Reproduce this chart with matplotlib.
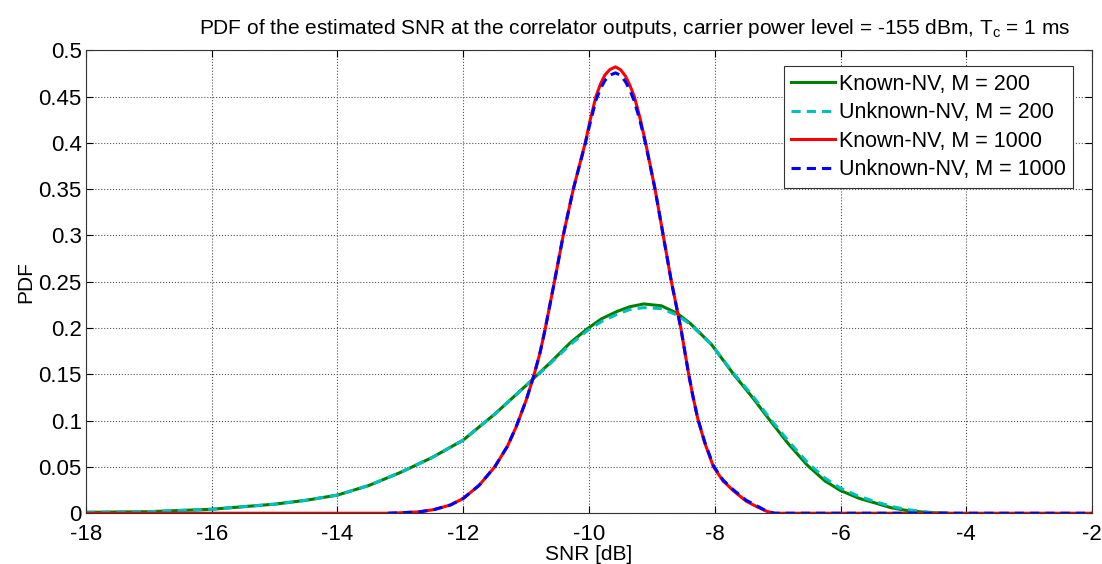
import matplotlib
matplotlib.use('Agg')
import matplotlib.pyplot as plt

plt.rcParams['font.family'] = ['Liberation Sans', 'DejaVu Sans']
plt.rcParams['mathtext.fontset'] = 'custom'
plt.rcParams['mathtext.rm'] = 'Liberation Sans'
plt.rcParams['axes.unicode_minus'] = False

# wide curves (M = 200)
wide_x = [-18, -17, -16, -15, -14.5, -14, -13.5, -13, -12.5, -12, -11.5, -11,
          -10.61, -10.3, -10.03, -9.8, -9.55, -9.35, -9.13, -8.85, -8.60, -8.39,
          -8.05, -7.70, -7.40, -7.12, -6.83, -6.53, -6.25, -6.0, -5.7, -5.42,
          -5.2, -4.95, -4.58, -4.3]
known_200 = [0.001, 0.0017, 0.0043, 0.0098, 0.014, 0.0196, 0.030, 0.044, 0.060,
             0.079, 0.107, 0.138, 0.163, 0.184, 0.199, 0.210, 0.218, 0.223, 0.226,
             0.224, 0.216, 0.205, 0.182, 0.150, 0.125, 0.100, 0.075, 0.052, 0.035,
             0.0245, 0.016, 0.0105, 0.006, 0.003, 0.0006, 0.0]
unknown_200 = [0.001, 0.0017, 0.0043, 0.0098, 0.014, 0.0196, 0.030, 0.044, 0.060,
               0.079, 0.107, 0.138, 0.162, 0.182, 0.197, 0.207, 0.215, 0.220, 0.222,
               0.221, 0.214, 0.204, 0.182, 0.151, 0.127, 0.102, 0.078, 0.055, 0.038,
               0.027, 0.018, 0.012, 0.0075, 0.004, 0.001, 0.0]

# narrow curves (M = 1000)
narrow_x = [-18, -13.2, -13.0, -12.7, -12.46, -12.2, -12.0, -11.75, -11.50, -11.3,
            -11.16, -11.0, -10.88, -10.78, -10.70, -10.55, -10.41, -10.25, -10.06,
            -9.98, -9.89, -9.82, -9.75, -9.67, -9.58, -9.50, -9.42, -9.35, -9.28,
            -9.19, -9.10, -8.95, -8.82, -8.69, -8.54, -8.42, -8.35, -8.27, -8.16,
            -8.02, -7.87, -7.70, -7.50, -7.33, -7.17, -7.05, -2]
known_1000 = [0, 0, 0.0005, 0.0015, 0.004, 0.009, 0.016, 0.030, 0.050, 0.072,
              0.093, 0.122, 0.148, 0.173, 0.198, 0.250, 0.300, 0.350, 0.400,
              0.425, 0.450, 0.463, 0.473, 0.479, 0.482, 0.479, 0.472, 0.462, 0.450,
              0.427, 0.400, 0.350, 0.300, 0.250, 0.200, 0.152, 0.127, 0.102, 0.076,
              0.050, 0.035, 0.024, 0.013, 0.007, 0.002, 0, 0]
unknown_1000 = [0, 0, 0.0005, 0.0015, 0.004, 0.009, 0.016, 0.030, 0.050, 0.072,
                0.093, 0.122, 0.148, 0.173, 0.198, 0.250, 0.300, 0.350, 0.399,
                0.422, 0.446, 0.458, 0.467, 0.473, 0.4755, 0.473, 0.466, 0.457, 0.445,
                0.424, 0.399, 0.350, 0.300, 0.250, 0.200, 0.152, 0.127, 0.102, 0.077,
                0.051, 0.036, 0.025, 0.014, 0.008, 0.002, 0, 0]

fig = plt.figure(figsize=(11.02, 5.64), dpi=100)
ax = fig.add_axes([0.078, 0.090, 0.913, 0.821])

ax.plot(wide_x, known_200, color='#008000', lw=2.2, label='Known-NV, M = 200')
ax.plot(wide_x, unknown_200, color='#00BFBF', lw=2.2, ls=(0, (3, 2)), label='Unknown-NV, M = 200')
ax.plot(narrow_x, known_1000, color='#FF0000', lw=2.2, label='Known-NV, M = 1000')
ax.plot(narrow_x[1:], unknown_1000[1:], color='#0000FF', lw=2.2, ls=(0, (3, 2)),
        label='Unknown-NV, M = 1000')

ax.set_xlim(-18, -2)
ax.set_ylim(0, 0.5)
ax.set_xticks(range(-18, -1, 2))
ax.set_yticks([i * 0.05 for i in range(11)])
ax.set_yticklabels(['0', '0.05', '0.1', '0.15', '0.2', '0.25', '0.3', '0.35', '0.4', '0.45', '0.5'])
ax.tick_params(direction='in', top=True, right=True, labelsize=16, length=5)
ax.tick_params(axis='x', pad=8)
ax.tick_params(axis='y', pad=3)
ax.grid(True, ls=':', color='#555555', lw=0.8)
for s in ax.spines.values():
    s.set_color('#333333')

ax.set_xlabel('SNR [dB]', fontsize=15, labelpad=0)
ax.set_ylabel('PDF', fontsize=15, labelpad=2)
ax.set_title(r'PDF of the estimated SNR at the correlator outputs, carrier power level = -155 dBm, T$_{\mathrm{c}}$ = 1 ms',
             fontsize=15, pad=12, x=0.545)

leg = ax.legend(loc='upper right', fontsize=15.5, handlelength=2.0, handletextpad=0.2,
                borderpad=0.35, labelspacing=0.35, fancybox=False, framealpha=1,
                bbox_to_anchor=(0.992, 0.989))
leg.get_frame().set_edgecolor('#333333')
leg.get_frame().set_linewidth(0.8)

fig.savefig('out.png', dpi=100)
